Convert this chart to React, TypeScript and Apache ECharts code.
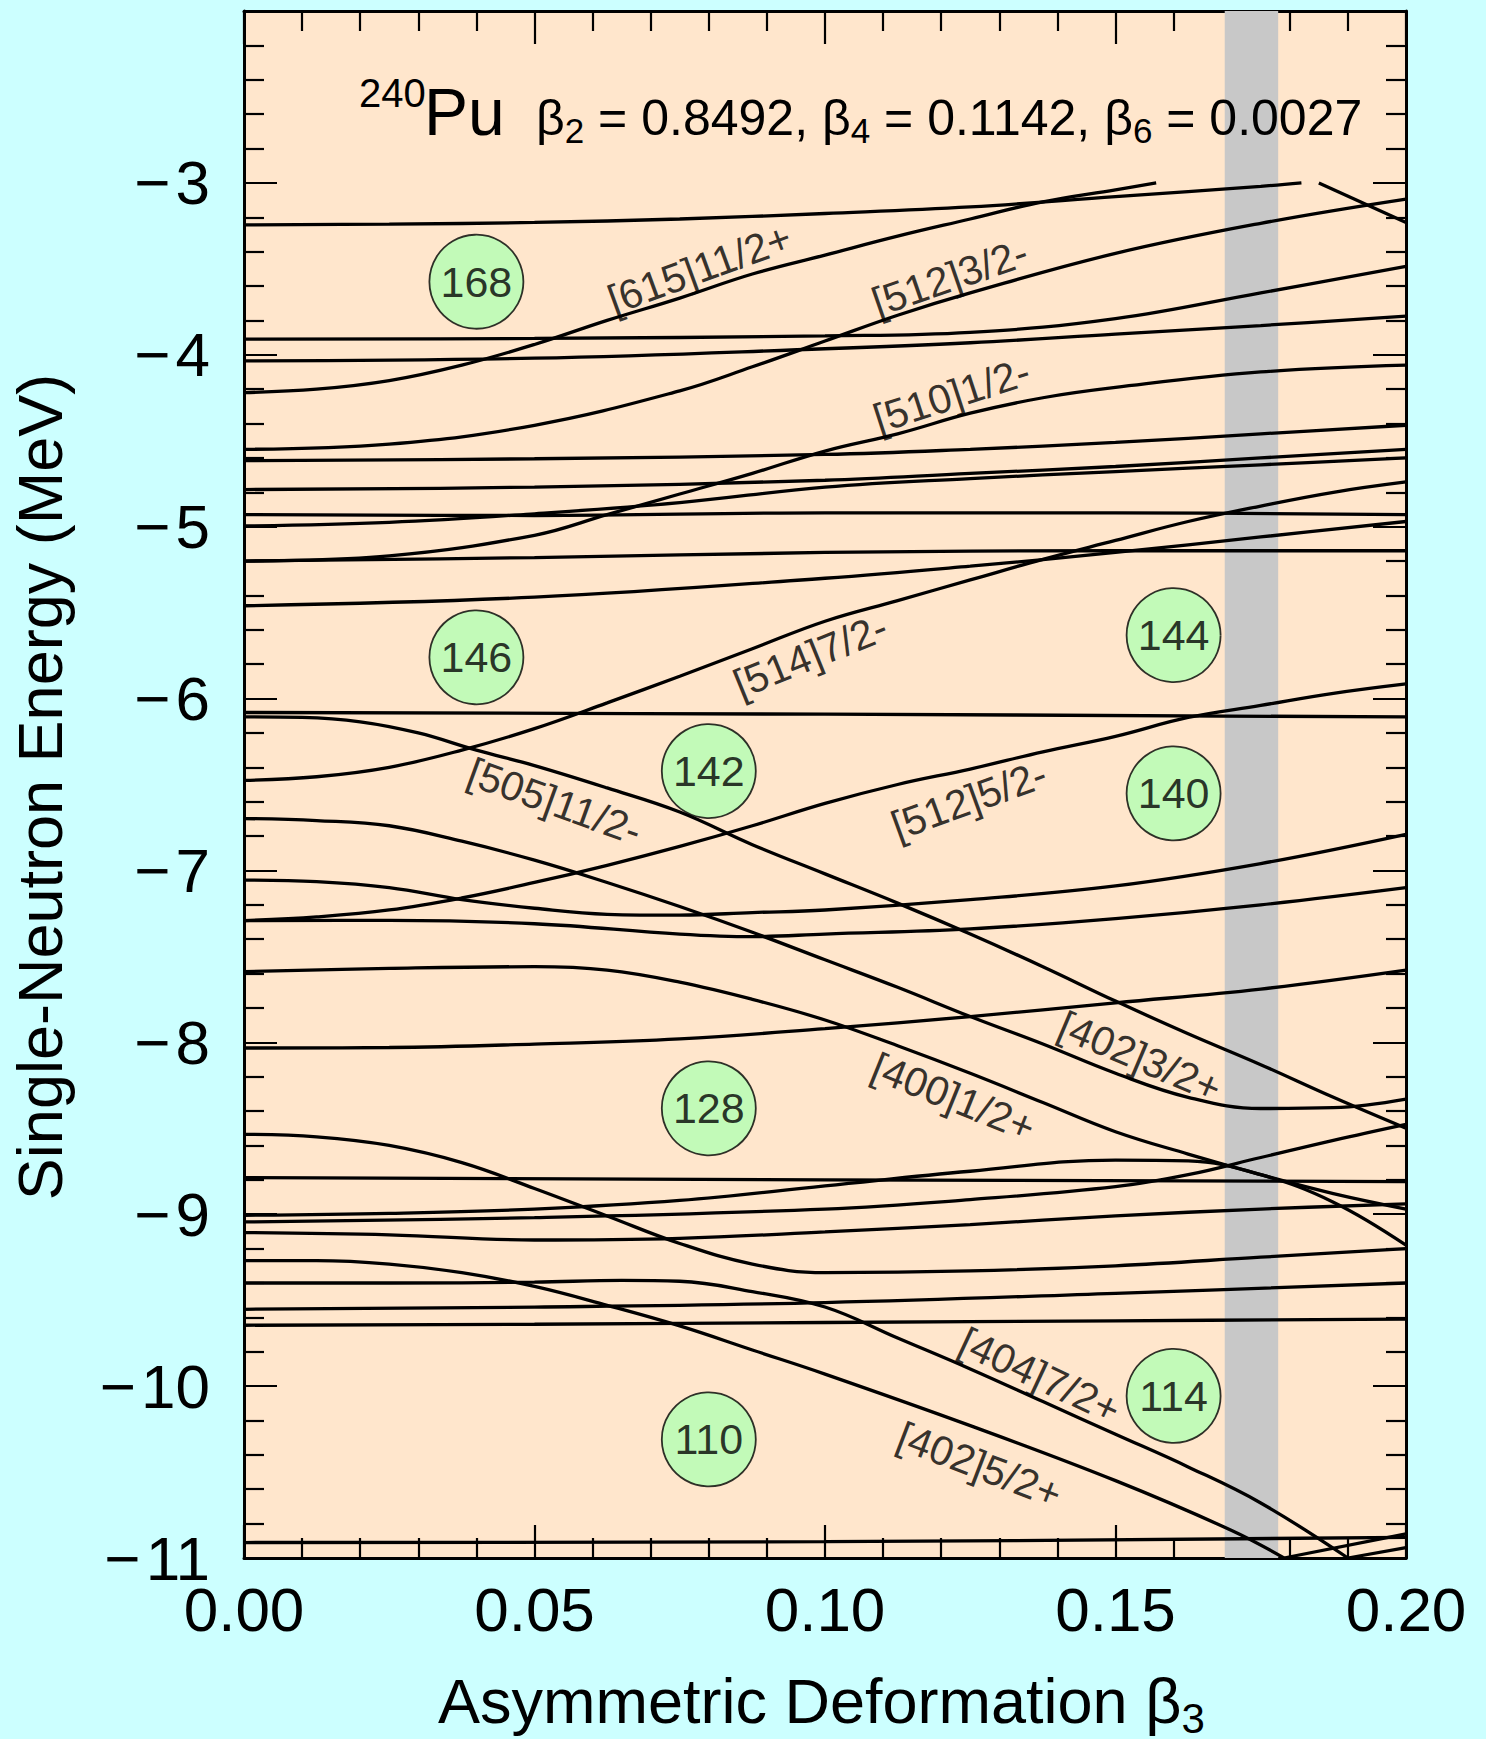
import React, { useEffect, useRef } from "react";
import * as echarts from "echarts";

const FONT = "'Liberation Sans', Arial, Helvetica, sans-serif";

// ---- axes ----
const betaMin = 0;
const betaMax = 0.2;
const betaStep = 0.05;
const energyMin = -11;
const energyMax = -2;
const energyStep = 1;
const shadedBeta = [0.1688, 0.178];

// ---- single-neutron levels: [beta3, energy MeV] ----
const lvlA = [[0,-3.244],[0.025,-3.24],[0.05,-3.23],[0.075,-3.21],[0.1,-3.178],[0.125,-3.14],[0.15,-3.08],[0.175,-3.02],[0.182,-3.0]];
const nu615_11 = [[0,-4.22],[0.0125,-4.2],[0.025,-4.15],[0.0375,-4.06],[0.05,-3.94],[0.0625,-3.8],[0.075,-3.67],[0.0875,-3.53],[0.1,-3.42],[0.1125,-3.31],[0.125,-3.21],[0.1375,-3.11],[0.15,-3.04],[0.157,-3.0]];
const lvlC = [[0,-3.909],[0.05,-3.905],[0.1,-3.89],[0.125,-3.87],[0.15,-3.79],[0.175,-3.64],[0.2,-3.485]];
const lvlD = [[0,-4.035],[0.05,-4.02],[0.1,-3.965],[0.125,-3.93],[0.15,-3.88],[0.175,-3.83],[0.2,-3.775]];
const nu512_3 = [[0,-4.55],[0.025,-4.52],[0.05,-4.41],[0.075,-4.21],[0.0875,-4.07],[0.1,-3.92],[0.1125,-3.77],[0.125,-3.64],[0.15,-3.41],[0.175,-3.235],[0.2,-3.094]];
const lvlF = [[0,-4.616],[0.05,-4.605],[0.1,-4.58],[0.125,-4.55],[0.15,-4.51],[0.175,-4.46],[0.2,-4.41]];
const lvlG = [[0,-4.784],[0.05,-4.77],[0.1,-4.73],[0.125,-4.69],[0.15,-4.65],[0.175,-4.6],[0.2,-4.55]];
const lvlH = [[0,-4.93],[0.05,-4.935],[0.1,-4.92],[0.15,-4.92],[0.2,-4.93]];
const lvlI = [[0,-4.996],[0.025,-4.975],[0.05,-4.925],[0.075,-4.86],[0.1,-4.77],[0.125,-4.72],[0.15,-4.68],[0.175,-4.64],[0.2,-4.6]];
const nu510_1 = [[0,-5.2],[0.025,-5.17],[0.05,-5.05],[0.0625,-4.93],[0.075,-4.81],[0.0875,-4.69],[0.1,-4.56],[0.1125,-4.46],[0.125,-4.34],[0.1375,-4.25],[0.15,-4.19],[0.175,-4.1],[0.2,-4.06]];
const lvlJ2 = [[0,-5.2],[0.05,-5.18],[0.1,-5.15],[0.15,-5.14],[0.2,-5.14]];
const lvlK = [[0,-5.46],[0.05,-5.41],[0.1,-5.3],[0.125,-5.23],[0.15,-5.15],[0.175,-5.06],[0.2,-4.97]];
const nu514_7 = [[0,-6.476],[0.0125,-6.455],[0.025,-6.4],[0.0375,-6.3],[0.05,-6.175],[0.0625,-6.025],[0.075,-5.87],[0.0875,-5.71],[0.1,-5.55],[0.1125,-5.43],[0.125,-5.31],[0.1375,-5.19],[0.15,-5.08],[0.1625,-4.97],[0.175,-4.88],[0.1875,-4.8],[0.2,-4.74]];
const lvlL = [[0,-6.081],[0.1,-6.091],[0.2,-6.107]];
const nu505_11 = [[0,-6.107],[0.01,-6.11],[0.02,-6.135],[0.03,-6.2],[0.04,-6.3],[0.05,-6.39],[0.0625,-6.52],[0.075,-6.66],[0.0875,-6.85],[0.1,-7.02],[0.1125,-7.19],[0.125,-7.37],[0.1375,-7.56],[0.15,-7.76],[0.1625,-7.95],[0.175,-8.13],[0.1875,-8.32],[0.2,-8.5]];
const nu402_3 = [[0,-6.698],[0.0125,-6.71],[0.025,-6.74],[0.0375,-6.83],[0.05,-6.94],[0.0625,-7.07],[0.075,-7.21],[0.0875,-7.36],[0.1,-7.52],[0.1125,-7.68],[0.125,-7.85],[0.1375,-8.01],[0.15,-8.18],[0.1625,-8.32],[0.175,-8.385],[0.1875,-8.38],[0.2,-8.33]];
const lvlP = [[0,-7.056],[0.0125,-7.065],[0.025,-7.1],[0.0375,-7.17],[0.05,-7.22],[0.0625,-7.255],[0.075,-7.26],[0.0875,-7.245],[0.1,-7.23],[0.125,-7.17],[0.15,-7.09],[0.175,-6.96],[0.2,-6.79]];
const nu512_5 = [[0,-7.292],[0.0125,-7.27],[0.025,-7.23],[0.0375,-7.16],[0.05,-7.07],[0.0625,-6.97],[0.075,-6.86],[0.0875,-6.74],[0.1,-6.61],[0.1125,-6.5],[0.125,-6.41],[0.1375,-6.31],[0.15,-6.22],[0.1625,-6.11],[0.175,-6.04],[0.1875,-5.97],[0.2,-5.915]];
const lvlR = [[0,-7.292],[0.025,-7.29],[0.05,-7.31],[0.075,-7.37],[0.0875,-7.385],[0.1,-7.37],[0.125,-7.34],[0.15,-7.28],[0.175,-7.2],[0.2,-7.1]];
const nu400_1 = [[0,-7.589],[0.025,-7.57],[0.05,-7.56],[0.0625,-7.58],[0.075,-7.65],[0.0875,-7.75],[0.1,-7.87],[0.1125,-8.02],[0.125,-8.18],[0.1375,-8.35],[0.15,-8.52],[0.1625,-8.65],[0.175,-8.77],[0.1875,-8.88],[0.2,-8.97]];
const lvlT = [[0,-8.033],[0.025,-8.03],[0.05,-8.01],[0.075,-7.98],[0.1,-7.92],[0.125,-7.85],[0.15,-7.77],[0.175,-7.69],[0.2,-7.58]];
const lvlU = [[0,-8.535],[0.0125,-8.55],[0.025,-8.6],[0.0375,-8.7],[0.05,-8.85],[0.0625,-9.01],[0.075,-9.17],[0.0875,-9.29],[0.1,-9.34],[0.125,-9.33],[0.15,-9.3],[0.175,-9.25],[0.2,-9.2]];
const lvlV = [[0,-8.787],[0.1,-8.8],[0.2,-8.81]];
const lvlW = [[0,-9.006],[0.025,-8.995],[0.05,-8.97],[0.075,-8.92],[0.1,-8.835],[0.125,-8.75],[0.15,-8.685],[0.1625,-8.69],[0.175,-8.77],[0.1875,-8.93],[0.2,-9.18]];
const lvlX = [[0,-9.045],[0.05,-9.02],[0.1,-8.97],[0.125,-8.915],[0.15,-8.84],[0.1625,-8.77],[0.175,-8.67],[0.1875,-8.57],[0.2,-8.477]];
const lvlY = [[0,-9.107],[0.025,-9.12],[0.05,-9.15],[0.075,-9.14],[0.1,-9.103],[0.125,-9.06],[0.15,-9.01],[0.175,-8.97],[0.2,-8.94]];
const nu402_5 = [[0,-9.27],[0.0125,-9.27],[0.025,-9.29],[0.0375,-9.34],[0.05,-9.42],[0.0625,-9.53],[0.075,-9.65],[0.0875,-9.79],[0.1,-9.93],[0.125,-10.23],[0.15,-10.55],[0.17,-10.84],[0.179,-11.0]];
const nu404_7 = [[0,-9.4],[0.025,-9.4],[0.05,-9.395],[0.065,-9.385],[0.075,-9.39],[0.0875,-9.45],[0.1,-9.54],[0.1125,-9.72],[0.125,-9.9],[0.1375,-10.09],[0.15,-10.28],[0.1625,-10.47],[0.175,-10.68],[0.19,-11.0]];
const lvlAB = [[0,-9.553],[0.05,-9.54],[0.1,-9.514],[0.15,-9.46],[0.2,-9.4]];
const lvlAC = [[0,-9.646],[0.05,-9.64],[0.1,-9.63],[0.15,-9.62],[0.2,-9.61]];
const lvlAD = [[0,-10.91],[0.1,-10.905],[0.2,-10.88]];
const lvlBR1 = [[0.179,-11.0],[0.2,-10.86]];
const lvlBR2 = [[0.19,-11.0],[0.2,-10.94]];
const lvlZ1 = [[0.185,-3.0],[0.2,-3.23]];

const levels = [
  lvlA, nu615_11, lvlC, lvlD, nu512_3, lvlF, lvlG, lvlH, lvlI, nu510_1, lvlJ2, lvlK,
  nu514_7, lvlL, nu505_11, nu402_3, lvlP, nu512_5, lvlR, nu400_1, lvlT, lvlU, lvlV,
  lvlW, lvlX, lvlY, nu402_5, nu404_7, lvlAB, lvlAC, lvlAD, lvlBR1, lvlBR2, lvlZ1,
];

// ---- shell-gap circles ----
const gapBeta = [0.04, 0.04, 0.08, 0.16, 0.16, 0.08, 0.16, 0.08];
const gapEnergy = [-3.575, -5.76, -6.422, -5.631, -6.552, -8.384, -10.057, -10.31];
const gapNumber = ["168", "146", "142", "144", "140", "128", "114", "110"];

// ---- orbital labels ----
const orbitalText = ["[615]11/2+", "[512]3/2-", "[510]1/2-", "[514]7/2-", "[505]11/2-", "[512]5/2-", "[402]3/2+", "[400]1/2+", "[404]7/2+", "[402]5/2+"];
const orbitalBeta = [0.0784, 0.1215, 0.1218, 0.0975, 0.0535, 0.1248, 0.1542, 0.1221, 0.137, 0.1266];
const orbitalEnergy = [-3.5, -3.55, -4.235, -5.75, -6.6, -6.59, -8.085, -8.32, -9.94, -10.46];
const orbitalAngle = [20, 19, 18, 22, -20, 20, -23, -22, -25, -21];

export default function App() {
  const ref = useRef<HTMLDivElement>(null);

  useEffect(() => {
    const el = ref.current;
    if (!el) return;
    const chart = echarts.init(el, null, { renderer: "svg" });

    const canvas = document.createElement("canvas");
    const ctx = canvas.getContext("2d") as CanvasRenderingContext2D;
    const measure = (t: string, s: number) => {
      ctx.font = `${s}px "Liberation Sans"`;
      return ctx.measureText(t).width;
    };
    const chain = (frags: { t: string; s: number; b: number }[], x0: number) => {
      let x = x0;
      const out: any[] = [];
      for (const f of frags) {
        out.push({
          type: "text",
          x,
          y: f.b - 0.3465 * f.s,
          silent: true,
          z: 20,
          style: {
            text: f.t,
            fontSize: f.s,
            fontFamily: FONT,
            fill: "#000",
            align: "left",
            textAlign: "left",
            verticalAlign: "middle",
            textVerticalAlign: "middle",
          },
        });
        x += measure(f.t, f.s);
      }
      return out;
    };

    const graphics: any[] = [
      ...chain([{ t: "240", s: 40, b: 107 }], 359),
      ...chain([{ t: "Pu", s: 66, b: 135 }], 424),
      ...chain(
        [
          { t: "β", s: 50, b: 135 },
          { t: "2", s: 35, b: 143 },
          { t: " = 0.8492, β", s: 50, b: 135 },
          { t: "4", s: 35, b: 143 },
          { t: " = 0.1142, β", s: 50, b: 135 },
          { t: "6", s: 35, b: 143 },
          { t: " = 0.0027", s: 50, b: 135 },
        ],
        536
      ),
      ...chain(
        [
          { t: "Asymmetric Deformation β", s: 63, b: 1723 },
          { t: "3", s: 42, b: 1733 },
        ],
        438
      ),
      {
        type: "text",
        x: 62 - 0.3465 * 63,
        y: 787,
        rotation: Math.PI / 2,
        silent: true,
        style: {
          text: "Single-Neutron Energy (MeV)",
          fontSize: 63,
          fontFamily: FONT,
          fill: "#000",
          align: "center",
          textAlign: "center",
          verticalAlign: "middle",
          textVerticalAlign: "middle",
        },
      },
    ];

    const axisCommon: any = {
      type: "value",
      axisLine: { show: true, onZero: false, lineStyle: { color: "#000", width: 3 } },
      axisTick: { show: true, inside: true, length: 33, lineStyle: { color: "#000", width: 2.2 } },
      minorTick: { show: true, splitNumber: 5, length: 20, lineStyle: { color: "#000", width: 2.2 } },
      splitLine: { show: false },
      minorSplitLine: { show: false },
    };

    const levelSeries = levels.map((d) => ({
      type: "line",
      data: d,
      xAxisIndex: 0,
      yAxisIndex: 0,
      showSymbol: false,
      symbol: "none",
      smooth: 0.4,
      silent: true,
      clip: true,
      z: 3,
      lineStyle: { color: "#000", width: 3.3 },
    }));

    const option: any = {
      animation: false,
      backgroundColor: "#CCFFFF",
      textStyle: { fontFamily: FONT },
      grid: {
        left: 244,
        top: 11,
        width: 1162,
        height: 1547,
        show: true,
        backgroundColor: "#FFE6CC",
        borderWidth: 0,
      },
      xAxis: [
        {
          ...axisCommon,
          position: "bottom",
          min: betaMin,
          max: betaMax,
          interval: betaStep,
          axisLabel: {
            show: true,
            fontSize: 62,
            color: "#000",
            fontFamily: FONT,
            margin: 20,
            showMinLabel: true,
            showMaxLabel: true,
            formatter: (v: number) => v.toFixed(2),
          },
        },
        {
          ...axisCommon,
          position: "top",
          min: betaMin,
          max: betaMax,
          interval: betaStep,
          axisLabel: { show: false },
        },
      ],
      yAxis: [
        {
          ...axisCommon,
          position: "left",
          min: energyMin,
          max: energyMax,
          interval: energyStep,
          axisLabel: {
            show: true,
            fontSize: 62,
            color: "#000",
            fontFamily: FONT,
            margin: 34,
            showMinLabel: true,
            showMaxLabel: true,
            formatter: (v: number) => {
              const r = Math.round(v);
              if (r > -3) return "";
              return "\u2212\u200A" + String(-r);
            },
          },
        },
        {
          ...axisCommon,
          position: "right",
          min: energyMin,
          max: energyMax,
          interval: energyStep,
          axisLabel: { show: false },
        },
      ],
      graphic: graphics,
      series: [
        {
          type: "line",
          data: [],
          z: 1,
          silent: true,
          markArea: {
            silent: true,
            label: { show: false },
            itemStyle: { color: "#C8C8C8" },
            data: [[{ xAxis: shadedBeta[0] }, { xAxis: shadedBeta[1] }]],
          },
        },
        ...levelSeries,
        {
          type: "scatter",
          data: orbitalText.map((t, i) => ({
            value: [orbitalBeta[i], orbitalEnergy[i]],
            name: t,
            label: { rotate: orbitalAngle[i] },
          })),
          symbolSize: 1,
          silent: true,
          z: 4,
          itemStyle: { color: "rgba(0,0,0,0)" },
          label: {
            show: true,
            position: "inside",
            formatter: (p: any) => p.name,
            fontSize: 41,
            color: "#000",
            textBorderWidth: 0,
            fontFamily: FONT,
          },
        },
        {
          type: "scatter",
          data: gapBeta.map((b, i) => [b, gapEnergy[i], gapNumber[i]]),
          symbol: "circle",
          symbolSize: 94,
          silent: true,
          z: 5,
          itemStyle: { color: "#B3FFB3", borderColor: "#000", borderWidth: 1.8 },
          label: {
            show: true,
            position: "inside",
            formatter: (p: any) => p.value[2],
            fontSize: 43,
            color: "#000",
            textBorderWidth: 0,
            fontFamily: FONT,
          },
        },
      ],
    };

    chart.setOption(option);
    return () => chart.dispose();
  }, []);

  return (
    <div
      ref={ref}
      style={{ position: "absolute", left: 0, top: 0, width: 1486, height: 1739, background: "#CCFFFF" }}
    />
  );
}
